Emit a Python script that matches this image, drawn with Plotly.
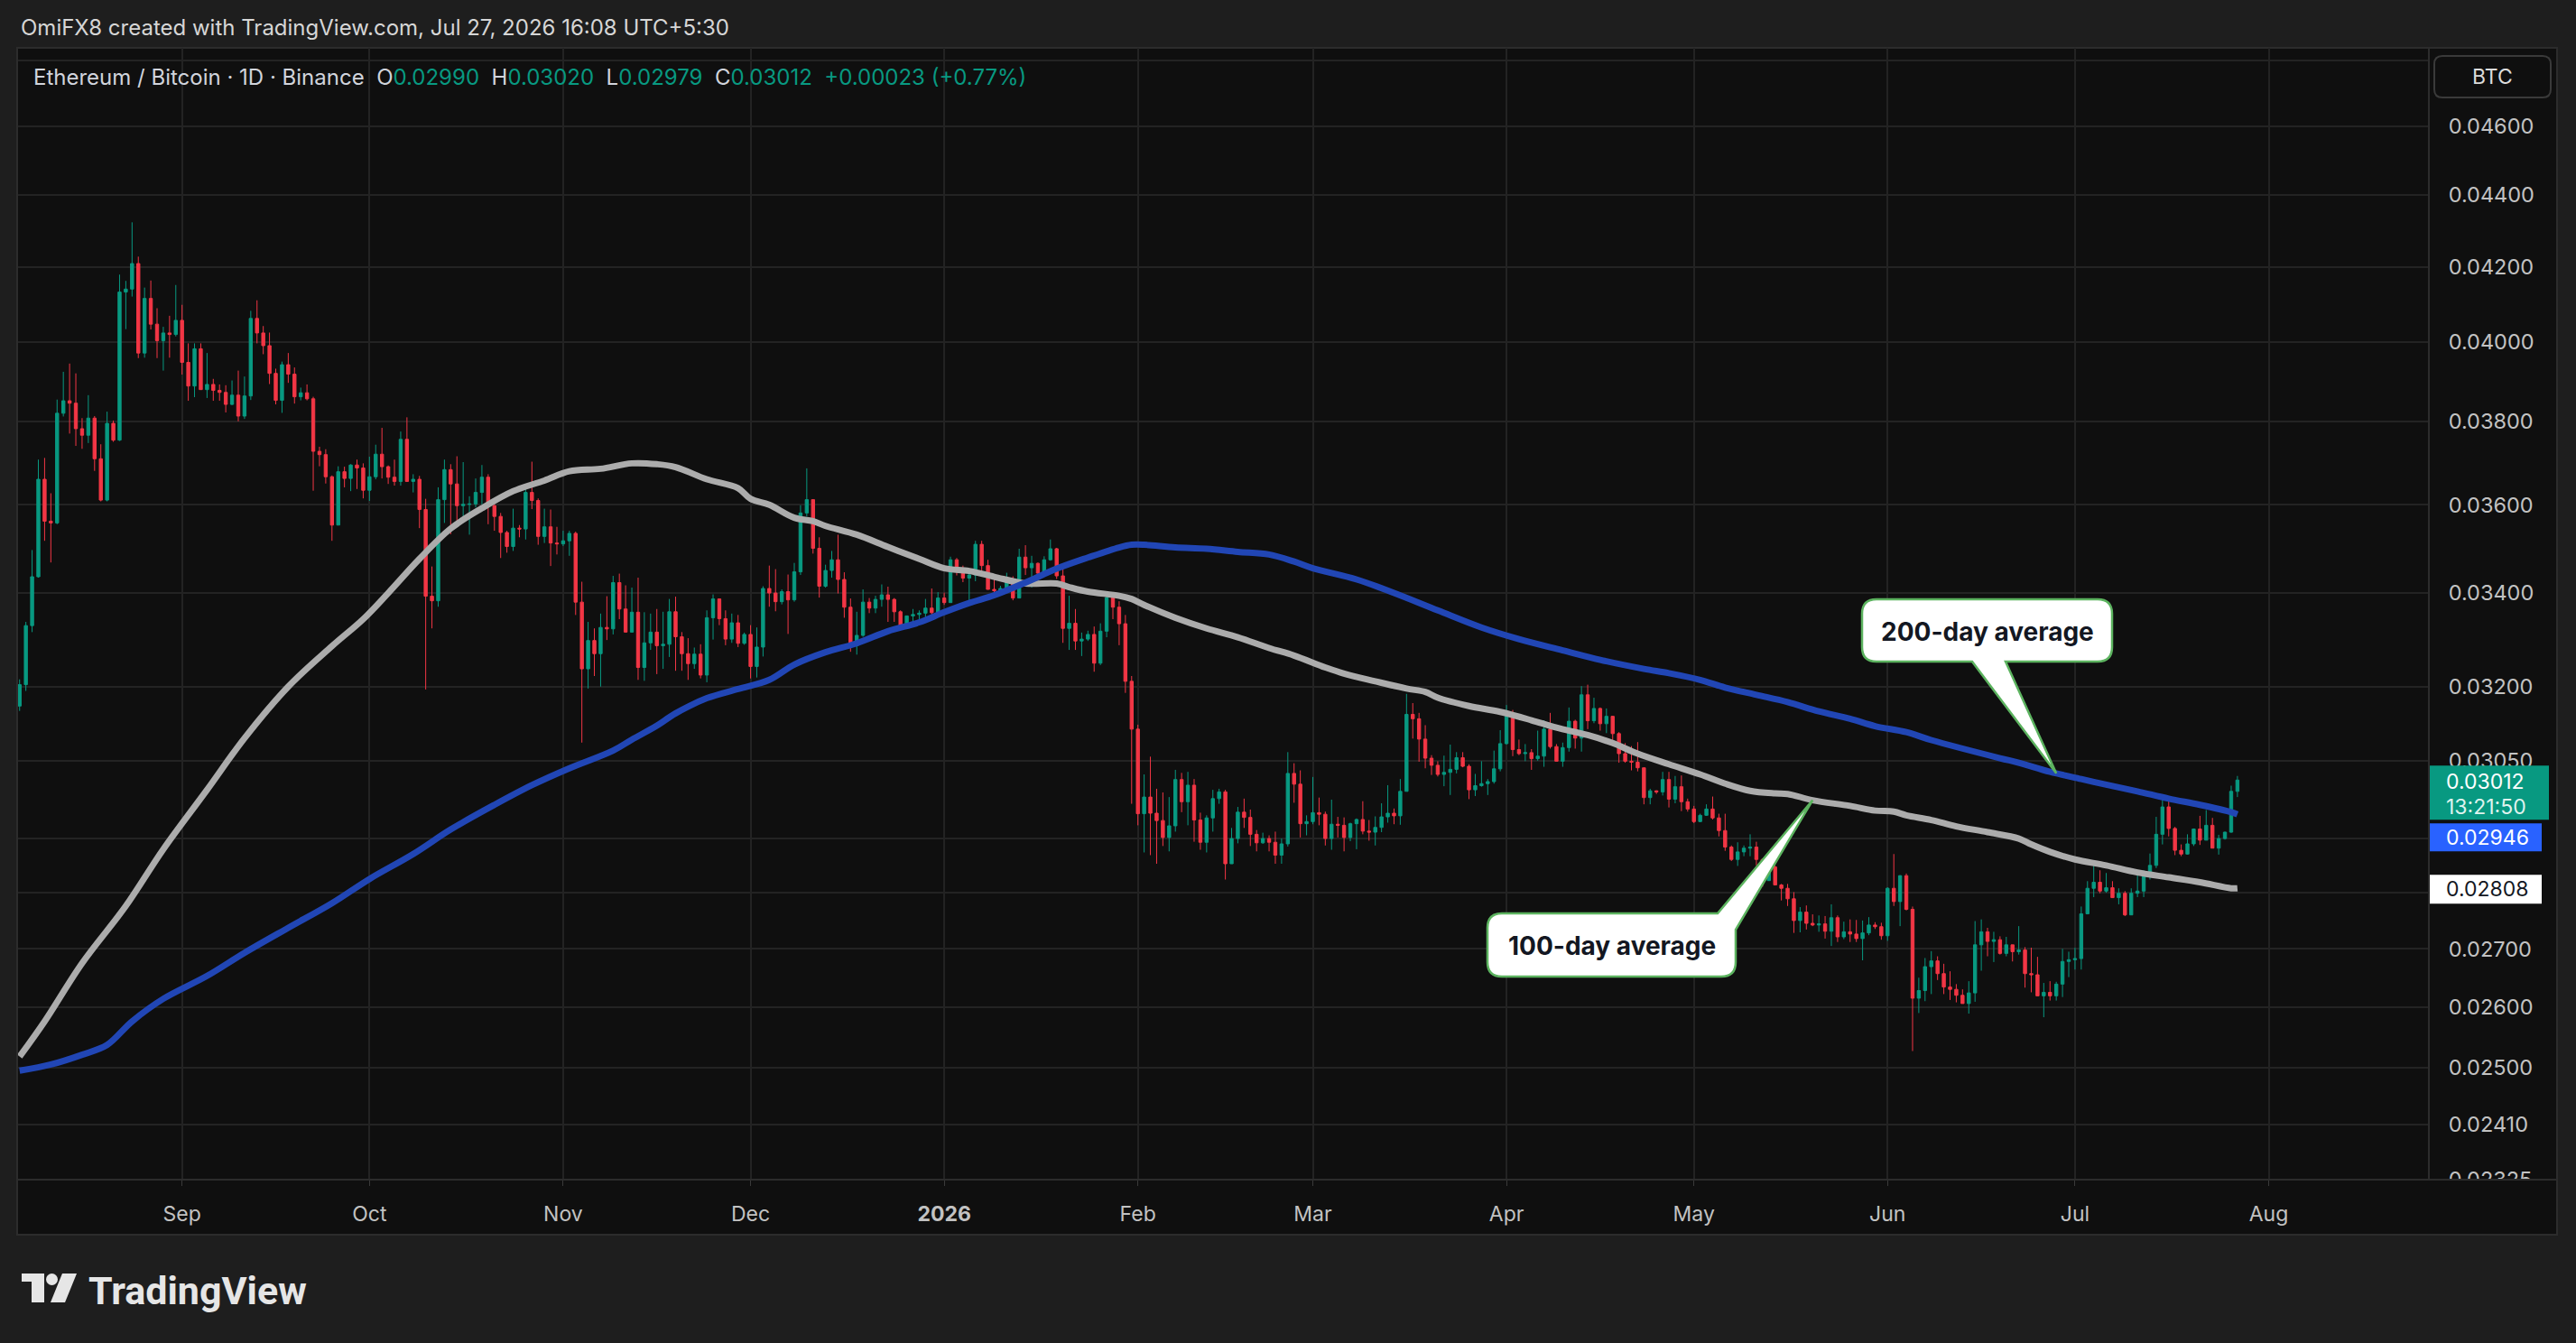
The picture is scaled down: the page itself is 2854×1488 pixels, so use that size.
import numpy as np
import pandas as pd
import plotly.graph_objects as go

# ---------------- canvas / plot-area geometry (pixels) ----------------
W, H = 2854, 1488
PL, PR, PT, PB = 20, 2690, 53, 1307

# ---------------- data (ETH/BTC daily, values in 1e-5 BTC) ----------------
START = "2025-08-06"

open_e5 = [
    3160, 3204, 3329, 3436, 3660, 3562, 3558, 3820, 3851, 3845,
    3782, 3766, 3808, 3709, 3611, 3795, 3754, 4132, 4140, 4209,
    3972, 4115, 4047, 4004, 4024, 4020, 4057, 3948, 3888, 3983,
    3879, 3892, 3877, 3872, 3842, 3865, 3813, 3863, 4062, 4024,
    3991, 3920, 3852, 3942, 3918, 3861, 3871, 3856, 3727, 3719,
    3666, 3553, 3678, 3662, 3694, 3687, 3634, 3666, 3720, 3690,
    3665, 3655, 3756, 3655, 3660, 3589, 3393, 3383, 3612, 3683,
    3649, 3598, 3601, 3602, 3629, 3665, 3598, 3573, 3536, 3504,
    3546, 3544, 3629, 3610, 3527, 3549, 3512, 3510, 3517, 3534,
    3380, 3237, 3297, 3269, 3325, 3322, 3423, 3365, 3315, 3358,
    3240, 3292, 3315, 3286, 3289, 3359, 3305, 3269, 3248, 3268,
    3224, 3346, 3387, 3344, 3300, 3335, 3291, 3310, 3242, 3283,
    3410, 3400, 3381, 3403, 3385, 3447, 3581, 3612, 3500, 3415,
    3450, 3474, 3430, 3369, 3286, 3308, 3380, 3367, 3386, 3396,
    3386, 3359, 3327, 3350, 3353, 3356, 3367, 3357, 3389, 3379,
    3474, 3450, 3433, 3440, 3509, 3461, 3408, 3405, 3410, 3431,
    3389, 3480, 3456, 3466, 3444, 3474, 3499, 3438, 3323, 3334,
    3296, 3300, 3310, 3249, 3317, 3390, 3369, 3333, 3211, 3113,
    2947, 2979, 2948, 2934, 2902, 2924, 3013, 2970, 3002, 2935,
    2893, 2939, 2976, 2989, 2853, 2900, 2950, 2940, 2908, 2892,
    2900, 2893, 2869, 2890, 3025, 3004, 2928, 2932, 2949, 2946,
    2900, 2927, 2925, 2902, 2928, 2936, 2914, 2912, 2921, 2941,
    2948, 2943, 2990, 3143, 3134, 3093, 3055, 3041, 3023, 3027,
    3033, 3056, 3039, 2993, 3001, 3005, 3009, 3034, 3084, 3143,
    3072, 3064, 3066, 3054, 3059, 3113, 3078, 3049, 3076, 3129,
    3095, 3183, 3130, 3155, 3124, 3139, 3104, 3064, 3049, 3047,
    3036, 2978, 2991, 2989, 3013, 2975, 2999, 2970, 2956, 2932,
    2944, 2956, 2939, 2915, 2884, 2861, 2875, 2882, 2884, 2861,
    2822, 2847, 2814, 2808, 2789, 2750, 2765, 2745, 2742, 2744,
    2731, 2755, 2721, 2730, 2726, 2718, 2728, 2742, 2739, 2723,
    2808, 2784, 2831, 2770, 2615, 2628, 2669, 2679, 2657, 2634,
    2630, 2620, 2606, 2624, 2707, 2730, 2713, 2716, 2692, 2707,
    2695, 2698, 2657, 2655, 2619, 2625, 2619, 2639, 2678, 2681,
    2683, 2762, 2808, 2819, 2803, 2809, 2791, 2799, 2760, 2799,
    2803, 2830, 2850, 2908, 2960, 2919, 2878, 2871, 2890, 2918,
    2897, 2925, 2882, 2900, 2912, 2990,
]

high_e5 = [
    3215, 3337, 3496, 3707, 3711, 3627, 3854, 3924, 3945, 3920,
    3808, 3865, 3813, 3744, 3824, 3802, 4179, 4162, 4323, 4228,
    4144, 4163, 4089, 4040, 4069, 4151, 4098, 3997, 3997, 3997,
    3972, 3906, 3892, 3890, 3902, 3927, 3912, 4082, 4110, 4042,
    4025, 3932, 3950, 3972, 3935, 3884, 3892, 3861, 3738, 3732,
    3669, 3691, 3690, 3696, 3707, 3698, 3714, 3743, 3784, 3693,
    3707, 3775, 3810, 3672, 3668, 3614, 3459, 3641, 3707, 3696,
    3715, 3701, 3620, 3662, 3694, 3672, 3614, 3581, 3540, 3591,
    3553, 3641, 3702, 3615, 3591, 3589, 3549, 3540, 3540, 3538,
    3425, 3337, 3323, 3355, 3393, 3438, 3443, 3417, 3412, 3434,
    3358, 3355, 3365, 3359, 3387, 3392, 3315, 3302, 3282, 3289,
    3362, 3397, 3387, 3362, 3355, 3352, 3314, 3330, 3325, 3415,
    3461, 3453, 3408, 3441, 3467, 3599, 3686, 3612, 3525, 3463,
    3494, 3531, 3446, 3388, 3359, 3408, 3389, 3394, 3419, 3414,
    3389, 3362, 3350, 3365, 3362, 3387, 3410, 3402, 3401, 3481,
    3478, 3461, 3449, 3517, 3517, 3474, 3434, 3416, 3445, 3437,
    3499, 3507, 3483, 3468, 3482, 3520, 3501, 3458, 3394, 3365,
    3314, 3318, 3327, 3334, 3394, 3394, 3382, 3352, 3222, 3122,
    3023, 3058, 2995, 2988, 2979, 3032, 3026, 3028, 3014, 2949,
    2944, 2993, 2995, 2993, 2920, 2960, 2976, 2955, 2916, 2911,
    2906, 2913, 2900, 3067, 3045, 3031, 2944, 3018, 2978, 2951,
    2974, 2941, 2940, 2930, 2938, 2971, 2935, 2942, 2967, 3002,
    2957, 3014, 3185, 3166, 3146, 3121, 3061, 3049, 3060, 3082,
    3067, 3067, 3043, 3024, 3049, 3014, 3070, 3111, 3162, 3152,
    3092, 3083, 3073, 3110, 3131, 3146, 3083, 3086, 3157, 3132,
    3201, 3204, 3177, 3157, 3155, 3140, 3107, 3085, 3079, 3087,
    3036, 2995, 2992, 3028, 3028, 3020, 3021, 2976, 2962, 2947,
    2965, 2980, 2947, 2947, 2887, 2893, 2887, 2908, 2894, 2863,
    2863, 2850, 2816, 2816, 2801, 2774, 2777, 2761, 2759, 2758,
    2779, 2759, 2748, 2752, 2751, 2750, 2756, 2747, 2746, 2810,
    2871, 2832, 2835, 2775, 2650, 2684, 2696, 2687, 2674, 2661,
    2639, 2630, 2644, 2749, 2752, 2737, 2730, 2722, 2721, 2707,
    2740, 2703, 2702, 2686, 2641, 2644, 2643, 2700, 2695, 2702,
    2775, 2821, 2857, 2841, 2836, 2821, 2808, 2803, 2808, 2840,
    2841, 2872, 2941, 2974, 2980, 2922, 2889, 2908, 2919, 2943,
    2954, 2939, 2907, 2913, 3001, 3020,
]

low_e5 = [
    3150, 3191, 3315, 3434, 3517, 3468, 3555, 3812, 3770, 3740,
    3733, 3747, 3680, 3608, 3608, 3750, 3752, 4034, 4120, 3959,
    3960, 4033, 3959, 3927, 3960, 4015, 3917, 3851, 3860, 3879,
    3858, 3851, 3851, 3822, 3840, 3800, 3806, 3853, 3997, 3969,
    3893, 3842, 3821, 3896, 3844, 3852, 3852, 3633, 3691, 3650,
    3517, 3553, 3641, 3632, 3637, 3615, 3609, 3660, 3662, 3649,
    3645, 3645, 3655, 3629, 3546, 3194, 3323, 3370, 3558, 3532,
    3555, 3560, 3531, 3594, 3601, 3555, 3540, 3478, 3490, 3494,
    3525, 3520, 3590, 3508, 3512, 3460, 3486, 3505, 3483, 3352,
    3086, 3196, 3222, 3200, 3298, 3310, 3343, 3314, 3314, 3214,
    3212, 3277, 3226, 3237, 3262, 3233, 3233, 3214, 3237, 3217,
    3209, 3299, 3330, 3287, 3292, 3283, 3288, 3217, 3219, 3263,
    3370, 3360, 3375, 3311, 3381, 3440, 3573, 3488, 3390, 3412,
    3434, 3399, 3346, 3273, 3267, 3305, 3356, 3356, 3370, 3337,
    3337, 3324, 3324, 3337, 3342, 3337, 3350, 3356, 3374, 3379,
    3439, 3424, 3381, 3426, 3440, 3408, 3393, 3400, 3406, 3384,
    3389, 3440, 3412, 3440, 3440, 3472, 3431, 3292, 3277, 3277,
    3264, 3296, 3231, 3245, 3304, 3343, 3287, 3187, 2966, 2925,
    2874, 2869, 2853, 2886, 2876, 2913, 2950, 2925, 2894, 2879,
    2874, 2913, 2966, 2824, 2853, 2891, 2920, 2886, 2876, 2890,
    2876, 2853, 2853, 2885, 2968, 2902, 2906, 2927, 2925, 2887,
    2879, 2902, 2876, 2895, 2880, 2908, 2896, 2887, 2912, 2930,
    2927, 2926, 2990, 3094, 3048, 3035, 3022, 3019, 3000, 2983,
    3025, 3037, 2975, 2981, 2999, 2983, 3005, 3029, 3082, 3059,
    3061, 3049, 3032, 3050, 3038, 3074, 3049, 3038, 3068, 3074,
    3068, 3113, 3125, 3110, 3105, 3091, 3046, 3046, 3031, 3029,
    2965, 2965, 2985, 2982, 2959, 2967, 2952, 2951, 2929, 2931,
    2943, 2936, 2904, 2877, 2858, 2849, 2867, 2867, 2850, 2811,
    2822, 2814, 2786, 2776, 2728, 2729, 2734, 2740, 2730, 2718,
    2705, 2712, 2717, 2712, 2712, 2680, 2724, 2735, 2716, 2714,
    2776, 2740, 2768, 2527, 2590, 2610, 2622, 2646, 2622, 2612,
    2608, 2606, 2589, 2609, 2662, 2687, 2677, 2690, 2687, 2678,
    2690, 2633, 2625, 2619, 2583, 2611, 2611, 2617, 2651, 2664,
    2664, 2761, 2792, 2799, 2800, 2791, 2779, 2758, 2760, 2792,
    2792, 2824, 2845, 2889, 2904, 2869, 2867, 2870, 2886, 2888,
    2897, 2882, 2870, 2898, 2911, 2979,
]

close_e5 = [
    3204, 3329, 3436, 3660, 3562, 3558, 3820, 3851, 3845, 3782,
    3766, 3808, 3709, 3611, 3795, 3754, 4132, 4140, 4209, 3972,
    4115, 4047, 4004, 4024, 4020, 4057, 3948, 3888, 3983, 3879,
    3892, 3877, 3872, 3842, 3865, 3813, 3863, 4062, 4024, 3991,
    3920, 3852, 3942, 3918, 3861, 3871, 3856, 3727, 3719, 3666,
    3553, 3678, 3662, 3694, 3687, 3634, 3666, 3720, 3690, 3665,
    3655, 3756, 3655, 3660, 3589, 3393, 3383, 3612, 3683, 3649,
    3598, 3601, 3602, 3629, 3665, 3598, 3573, 3536, 3504, 3546,
    3544, 3629, 3610, 3527, 3549, 3512, 3510, 3517, 3534, 3380,
    3237, 3297, 3269, 3325, 3322, 3423, 3365, 3315, 3358, 3240,
    3292, 3315, 3286, 3289, 3359, 3305, 3269, 3248, 3268, 3224,
    3346, 3387, 3344, 3300, 3335, 3291, 3310, 3242, 3283, 3410,
    3400, 3381, 3403, 3385, 3447, 3581, 3612, 3500, 3415, 3450,
    3474, 3430, 3369, 3286, 3308, 3380, 3367, 3386, 3396, 3386,
    3359, 3327, 3350, 3353, 3356, 3367, 3357, 3389, 3379, 3474,
    3450, 3433, 3440, 3509, 3461, 3408, 3405, 3410, 3431, 3389,
    3480, 3456, 3466, 3444, 3474, 3499, 3438, 3323, 3334, 3296,
    3300, 3310, 3249, 3317, 3390, 3369, 3333, 3211, 3113, 2947,
    2979, 2948, 2934, 2902, 2924, 3013, 2970, 3002, 2935, 2893,
    2939, 2976, 2989, 2853, 2900, 2950, 2940, 2908, 2892, 2900,
    2893, 2869, 2890, 3025, 3004, 2928, 2932, 2949, 2946, 2900,
    2927, 2925, 2902, 2928, 2936, 2914, 2912, 2921, 2941, 2948,
    2943, 2990, 3143, 3134, 3093, 3055, 3041, 3023, 3027, 3033,
    3056, 3039, 2993, 3001, 3005, 3009, 3034, 3084, 3143, 3072,
    3064, 3066, 3054, 3059, 3113, 3078, 3049, 3076, 3129, 3095,
    3183, 3130, 3155, 3124, 3139, 3104, 3064, 3049, 3047, 3036,
    2978, 2991, 2989, 3013, 2975, 2999, 2970, 2956, 2932, 2944,
    2956, 2939, 2915, 2884, 2861, 2875, 2882, 2884, 2861, 2822,
    2847, 2814, 2808, 2789, 2750, 2765, 2745, 2742, 2744, 2731,
    2755, 2721, 2730, 2726, 2718, 2728, 2742, 2739, 2723, 2808,
    2784, 2831, 2770, 2615, 2628, 2669, 2679, 2657, 2634, 2630,
    2620, 2606, 2624, 2707, 2730, 2713, 2716, 2692, 2707, 2695,
    2698, 2657, 2655, 2619, 2625, 2619, 2639, 2678, 2681, 2683,
    2762, 2808, 2819, 2803, 2809, 2791, 2799, 2760, 2799, 2803,
    2830, 2850, 2908, 2960, 2919, 2878, 2871, 2890, 2918, 2897,
    2925, 2882, 2900, 2912, 2990, 3012,
]

# moving averages (day offset from START, value in 1e-5)
ma100_day = [0, 4, 10, 17, 23, 30, 36, 43, 50, 55, 59, 64, 69, 74, 79, 84, 88, 93, 98,
             102, 105, 110, 115, 117, 120, 124, 127, 129, 134, 139, 144, 148, 152, 156, 161, 166, 168, 171, 176,
             178, 180, 185, 190, 195, 200, 204, 209, 212, 217, 222, 225, 227, 232, 237, 242, 246, 251, 255, 259,
             264, 269, 273, 277, 281, 283, 287, 293, 297, 300, 302, 306, 310, 315, 320, 322, 325, 329, 334, 339,
             344, 349, 354, 355]
ma100_e5 = [2518, 2576, 2675, 2776, 2880, 2993, 3095, 3200, 3285, 3343, 3400, 3476, 3545, 3592, 3632, 3657, 3679, 3685, 3698,
            3696, 3689, 3660, 3639, 3614, 3600, 3570, 3562, 3551, 3531, 3503, 3476, 3455, 3449, 3436, 3421, 3421, 3413, 3403, 3394,
            3387, 3374, 3346, 3323, 3304, 3281, 3265, 3240, 3227, 3211, 3196, 3189, 3177, 3160, 3148, 3131, 3116, 3101, 3085, 3064,
            3043, 3023, 3005, 2991, 2986, 2985, 2973, 2962, 2953, 2951, 2944, 2935, 2923, 2912, 2900, 2889, 2875, 2861, 2850, 2837,
            2828, 2819, 2808, 2808]

ma200_day = [0, 5, 10, 14, 18, 23, 30, 36, 43, 50, 56, 63, 69, 76, 82, 88, 95, 98, 102, 105,
             110, 115, 120, 124, 129, 134, 139, 144, 148, 152, 156, 161, 166, 171, 176, 178, 180, 185, 190, 195,
             200, 204, 207, 214, 220, 227, 234, 240, 247, 253, 260, 264, 269, 273, 278, 283, 288, 293, 297, 302,
             306, 317, 320, 325, 330, 334, 339, 344, 349, 354, 355]
ma200_e5 = [2495, 2505, 2521, 2537, 2576, 2614, 2653, 2693, 2737, 2781, 2825, 2871, 2917, 2964, 3002, 3035, 3070, 3092, 3120, 3145,
            3176, 3195, 3214, 3246, 3272, 3291, 3317, 3336, 3358, 3378, 3395, 3423, 3454, 3479, 3502, 3508, 3508, 3502, 3499, 3492,
            3486, 3470, 3455, 3430, 3400, 3362, 3325, 3300, 3276, 3256, 3237, 3228, 3214, 3198, 3183, 3168, 3149, 3134, 3119, 3107,
            3091, 3055, 3046, 3028, 3014, 3003, 2990, 2976, 2964, 2950, 2946]

# axes ticks
y_tickvals = [0.048, 0.046, 0.044, 0.042, 0.040, 0.038, 0.036, 0.034, 0.032, 0.0305,
              0.029, 0.028, 0.027, 0.026, 0.025, 0.0241, 0.02325]
y_ticktext = ["", "0.04600", "0.04400", "0.04200", "0.04000", "0.03800", "0.03600", "0.03400",
              "0.03200", "0.03050", "", "", "0.02700", "0.02600", "0.02500", "0.02410", "0.02325"]
x_tickvals = ["2025-09-01", "2025-10-01", "2025-11-01", "2025-12-01", "2026-01-01", "2026-02-01",
              "2026-03-01", "2026-04-01", "2026-05-01", "2026-06-01", "2026-07-01", "2026-08-01"]
x_ticktext = ["Sep", "Oct", "Nov", "Dec", "<b>2026</b>", "Feb", "Mar", "Apr", "May", "Jun", "Jul", "Aug"]

X_RANGE = ["2025-08-05 18:00", "2026-08-26 12:00"]
Y_RANGE = [0.02325, 0.048404]

# ---------------- styling ----------------
FONT = "Inter, Roboto, 'DejaVu Sans', sans-serif"
PAGE = "#1e1e1e"
PANEL = "#0f0f0f"
GRID = "#232323"
BORDER = "#2c2c2c"
GREEN = "#089981"
RED = "#f23645"
GRAY_MA = "#acacac"
BLUE_MA = "#2146b5"
TXT = "#d1d4dc"
AXT = "#c2c2c2"
CALLOUT_EDGE = "#5cb35f"

SC = 1e-5
dates = pd.date_range(START, periods=len(close_e5), freq="D")
o = np.array(open_e5) * SC
h = np.array(high_e5) * SC
l = np.array(low_e5) * SC
c = np.array(close_e5) * SC
t_start = pd.Timestamp(START)
ma100_x = t_start + pd.to_timedelta(ma100_day, unit="D")
ma200_x = t_start + pd.to_timedelta(ma200_day, unit="D")
ma100_y = np.array(ma100_e5) * SC
ma200_y = np.array(ma200_e5) * SC

# pixel helpers (based on the axis ranges above)
t0, t1 = pd.Timestamp(X_RANGE[0]), pd.Timestamp(X_RANGE[1])
LO, HI = np.log10(Y_RANGE[0]), np.log10(Y_RANGE[1])


def xpx(ts):
    return PL + (pd.Timestamp(ts) - t0) / (t1 - t0) * (PR - PL)


def ypx(p):
    return PB - (np.log10(p) - LO) / (HI - LO) * (PB - PT)


def px(x):
    return (x - PL) / (PR - PL)


def py(y):
    return (PB - y) / (PB - PT)


def P(x, y):
    return f"{px(x):.6f},{py(y):.6f}"


fig = go.Figure()

fig.add_trace(go.Scatter(x=ma100_x, y=ma100_y, mode="lines",
                         line=dict(color=GRAY_MA, width=7, shape="spline", smoothing=1.0),
                         hoverinfo="skip", showlegend=False))
fig.add_trace(go.Scatter(x=ma200_x, y=ma200_y, mode="lines",
                         line=dict(color=BLUE_MA, width=7, shape="spline", smoothing=1.0),
                         hoverinfo="skip", showlegend=False))
fig.add_trace(go.Candlestick(
    x=dates, open=o, high=h, low=l, close=c,
    increasing=dict(line=dict(color=GREEN, width=1), fillcolor=GREEN),
    decreasing=dict(line=dict(color=RED, width=1), fillcolor=RED),
    whiskerwidth=0, showlegend=False, hoverinfo="skip"))

shapes = []
annotations = []

# chart panel (covers plot + price scale + time scale)
shapes.append(dict(type="rect", xref="paper", yref="paper", layer="below",
                   x0=px(19), x1=px(2833), y0=py(1368), y1=py(PT),
                   fillcolor=PANEL, line=dict(color=BORDER, width=2)))
# corner below the price scale (clips the lowest price label like the original)
shapes.append(dict(type="rect", xref="paper", yref="paper", layer="above",
                   x0=px(2692), x1=px(2832), y0=py(1367), y1=py(PB + 1),
                   fillcolor=PANEL, line=dict(width=0)))
# separator between plot and time scale
shapes.append(dict(type="line", xref="paper", yref="paper", layer="above",
                   x0=px(19), x1=px(2833), y0=py(PB), y1=py(PB),
                   line=dict(color=BORDER, width=2)))

# ---- callout: 200-day average (tip on the 200-day line) ----
tip200_day = 326
tx = xpx(t_start + pd.Timedelta(days=tip200_day))
ty = ypx(np.interp(tip200_day, ma200_day, ma200_e5) * SC)
L_, R_, T_, B_, r = 2063, 2340, 664, 733, 16
xa, xb = 2185, 2222
path200 = (f"M {P(L_ + r, T_)} L {P(R_ - r, T_)} Q {P(R_, T_)} {P(R_, T_ + r)} "
           f"L {P(R_, B_ - r)} Q {P(R_, B_)} {P(R_ - r, B_)} L {P(xb, B_)} L {P(tx, ty)} "
           f"L {P(xa, B_)} L {P(L_ + r, B_)} Q {P(L_, B_)} {P(L_, B_ - r)} "
           f"L {P(L_, T_ + r)} Q {P(L_, T_)} {P(L_ + r, T_)} Z")
shapes.append(dict(type="path", xref="paper", yref="paper", layer="above", path=path200,
                   fillcolor="white", line=dict(color=CALLOUT_EDGE, width=2.5)))
annotations.append(dict(xref="paper", yref="paper", x=px((L_ + R_) / 2), y=py((T_ + B_) / 2 + 1),
                        text="<b>200-day average</b>", showarrow=False,
                        font=dict(family=FONT, size=28, color="#131722"),
                        xanchor="center", yanchor="middle"))

# ---- callout: 100-day average (tip on the 100-day line) ----
tip100_day = 287
tx = xpx(t_start + pd.Timedelta(days=tip100_day))
ty = ypx(np.interp(tip100_day, ma100_day, ma100_e5) * SC)
L_, R_, T_, B_, r = 1648, 1923, 1012, 1082, 16
xa, yb = 1903, 1030
path100 = (f"M {P(L_ + r, T_)} L {P(xa, T_)} L {P(tx, ty)} L {P(R_, yb)} "
           f"L {P(R_, B_ - r)} Q {P(R_, B_)} {P(R_ - r, B_)} L {P(L_ + r, B_)} "
           f"Q {P(L_, B_)} {P(L_, B_ - r)} L {P(L_, T_ + r)} Q {P(L_, T_)} {P(L_ + r, T_)} Z")
shapes.append(dict(type="path", xref="paper", yref="paper", layer="above", path=path100,
                   fillcolor="white", line=dict(color=CALLOUT_EDGE, width=2.5)))
annotations.append(dict(xref="paper", yref="paper", x=px((L_ + R_) / 2), y=py((T_ + B_) / 2 + 1),
                        text="<b>100-day average</b>", showarrow=False,
                        font=dict(family=FONT, size=28, color="#131722"),
                        xanchor="center", yanchor="middle"))

# ---- price-scale labels ----
yc = ypx(c[-1])
shapes.append(dict(type="rect", xref="paper", yref="paper", layer="above",
                   x0=px(2692), x1=px(2824), y0=py(yc - 16), y1=py(yc + 44),
                   fillcolor=GREEN, line=dict(width=0)))
annotations.append(dict(xref="paper", yref="paper", x=px(2708), y=py(yc + 2),
                        text=f"{c[-1]:.5f}", showarrow=False, xanchor="left", yanchor="middle",
                        font=dict(family=FONT, size=23, color="white")))
annotations.append(dict(xref="paper", yref="paper", x=px(2708), y=py(yc + 30),
                        text="13:21:50", showarrow=False, xanchor="left", yanchor="middle",
                        font=dict(family=FONT, size=23, color="#dff3ee")))
ybt = yc + 48
shapes.append(dict(type="rect", xref="paper", yref="paper", layer="above",
                   x0=px(2692), x1=px(2816), y0=py(ybt), y1=py(ybt + 31),
                   fillcolor="#2962ff", line=dict(width=0)))
annotations.append(dict(xref="paper", yref="paper", x=px(2708), y=py(ybt + 16),
                        text=f"{ma200_y[-1]:.5f}", showarrow=False, xanchor="left", yanchor="middle",
                        font=dict(family=FONT, size=23, color="white")))
yw = ypx(ma100_y[-1])
shapes.append(dict(type="rect", xref="paper", yref="paper", layer="above",
                   x0=px(2692), x1=px(2816), y0=py(yw - 15), y1=py(yw + 17),
                   fillcolor="white", line=dict(width=0)))
annotations.append(dict(xref="paper", yref="paper", x=px(2708), y=py(yw + 1),
                        text=f"{ma100_y[-1]:.5f}", showarrow=False, xanchor="left", yanchor="middle",
                        font=dict(family=FONT, size=23, color="#131722")))

# BTC currency box
bl, br_, bt, bb, rr = 2697, 2826, 62, 108, 9
btc_path = (f"M {P(bl + rr, bt)} L {P(br_ - rr, bt)} Q {P(br_, bt)} {P(br_, bt + rr)} "
            f"L {P(br_, bb - rr)} Q {P(br_, bb)} {P(br_ - rr, bb)} L {P(bl + rr, bb)} "
            f"Q {P(bl, bb)} {P(bl, bb - rr)} L {P(bl, bt + rr)} Q {P(bl, bt)} {P(bl + rr, bt)} Z")
shapes.append(dict(type="path", xref="paper", yref="paper", layer="above", path=btc_path,
                   fillcolor=PANEL, line=dict(color="#3a3a3a", width=2)))
annotations.append(dict(xref="paper", yref="paper", x=px((bl + br_) / 2), y=py((bt + bb) / 2),
                        text="BTC", showarrow=False, xanchor="center", yanchor="middle",
                        font=dict(family=FONT, size=23, color="#dcdcdc")))

# header & legend lines
annotations.append(dict(xref="paper", yref="paper", x=px(21), y=py(31),
                        text="OmiFX8 created with TradingView.com, Jul 27, 2026 16:08 UTC+5:30",
                        showarrow=False, xanchor="left", yanchor="middle",
                        font=dict(family=FONT, size=24, color="#d6d6d6")))
val = lambda s: f"<span style='color:{GREEN}'>{s}</span>"
legend_txt = ("Ethereum / Bitcoin · 1D · Binance  "
              f"O{val('0.02990')}  H{val('0.03020')}  L{val('0.02979')}  C{val('0.03012')}  "
              f"{val('+0.00023 (+0.77%)')}")
annotations.append(dict(xref="paper", yref="paper", x=px(35), y=py(86),
                        text=legend_txt, showarrow=False, xanchor="left", yanchor="middle",
                        font=dict(family=FONT, size=24, color=TXT)))

# TradingView logo (icon + wordmark)
LOGO = "#e6e6e6"
shapes.append(dict(type="path", xref="paper", yref="paper", layer="above",
                   path=f"M {P(24, 1411)} L {P(49, 1411)} L {P(49, 1443)} L {P(35, 1443)} "
                        f"L {P(35, 1420)} L {P(24, 1420)} Z",
                   fillcolor=LOGO, line=dict(width=0)))
shapes.append(dict(type="circle", xref="paper", yref="paper", layer="above",
                   x0=px(51), x1=px(64), y0=py(1424), y1=py(1411),
                   fillcolor=LOGO, line=dict(width=0)))
shapes.append(dict(type="path", xref="paper", yref="paper", layer="above",
                   path=f"M {P(69, 1411)} L {P(85, 1411)} L {P(72, 1443)} L {P(56, 1443)} Z",
                   fillcolor=LOGO, line=dict(width=0)))
annotations.append(dict(xref="paper", yref="paper", x=px(96), y=py(1430),
                        text="<b>TradingView</b>", showarrow=False, xanchor="left", yanchor="middle",
                        font=dict(family="Roboto, Inter, sans-serif", size=43, color=LOGO)))

fig.update_layout(
    width=W, height=H,
    margin=dict(l=PL, r=W - PR, t=PT, b=H - PB, pad=0),
    paper_bgcolor=PAGE, plot_bgcolor=PANEL,
    showlegend=False, hovermode=False,
    boxgap=0.3, boxgroupgap=0.3,
    shapes=shapes, annotations=annotations,
    font=dict(family=FONT, color=AXT),
)
fig.update_xaxes(
    type="date", range=X_RANGE, tickvals=x_tickvals, ticktext=x_ticktext,
    showgrid=True, gridcolor=GRID, gridwidth=2,
    ticks="outside", ticklen=6, tickcolor="#3a3a3a", tickwidth=1,
    showline=False, zeroline=False, automargin=False,
    tickfont=dict(family=FONT, size=23, color=AXT),
    ticklabelstandoff=11,
    rangeslider=dict(visible=False), fixedrange=True,
)
fig.update_yaxes(
    type="log", side="right", range=[LO, HI],
    tickvals=y_tickvals, ticktext=y_ticktext,
    showgrid=True, gridcolor=GRID, gridwidth=2,
    ticks="", showline=True, linecolor=BORDER, linewidth=2, zeroline=False,
    automargin=False, tickfont=dict(family=FONT, size=23.5, color=AXT),
    ticklabelstandoff=16, fixedrange=True,
)

fig.write_html("out.html")
